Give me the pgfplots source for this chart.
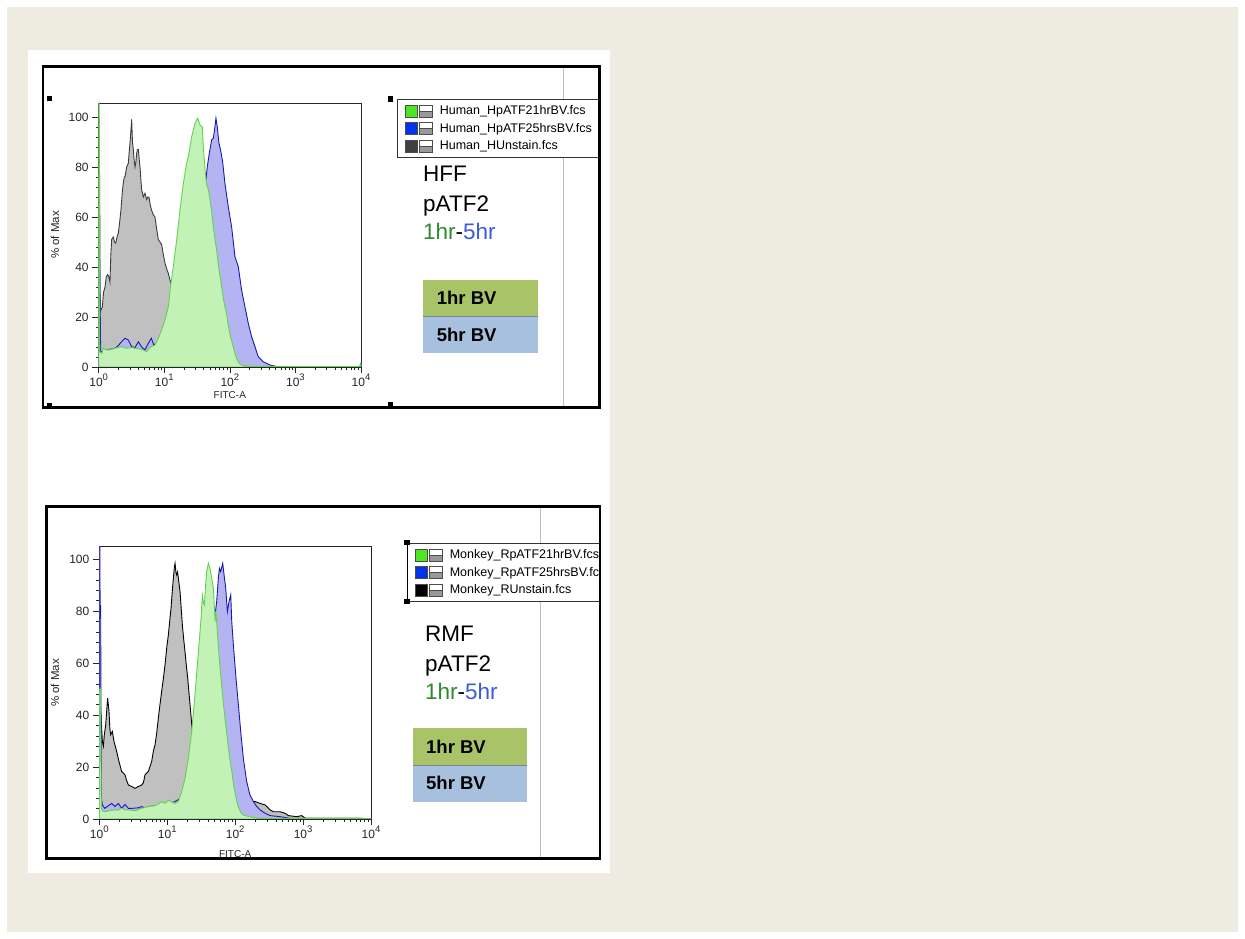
\documentclass[border=0pt]{standalone}
\usepackage{pgfplots}
\pgfplotsset{compat=1.18}
\usepackage{pgfplotstable}
\usepackage{fontspec}
\setmainfont{Liberation Sans}

\definecolor{bgbeige}{HTML}{EEECE1}
\definecolor{grayfill}{HTML}{C0C0C0}
\definecolor{grayline}{HTML}{3C3C3C}
\definecolor{greenfill}{HTML}{C2F2B6}
\definecolor{greenline}{HTML}{64D250}
\definecolor{bluefill}{HTML}{B4B4F2}
\definecolor{blueline}{HTML}{1A1AA8}
\definecolor{lgreen}{HTML}{4CE624}
\definecolor{lblue}{HTML}{0033EE}
\definecolor{ldark}{HTML}{404040}
\definecolor{txtgreen}{HTML}{2E8B2E}
\definecolor{txtblue}{HTML}{3B5BDB}
\definecolor{boxgreen}{HTML}{A9C369}
\definecolor{boxblue}{HTML}{A7C0DE}

% ---------------- Human (HFF) ----------------
\pgfplotstableread{
x y
1 77
1.035 77
1.05 22
1.135 24
1.189 30
1.247 32
1.303 36
1.371 37
1.429 36
1.486 34
1.531 45
1.578 51
1.671 52
1.738 50
1.816 49.5
1.905 52
1.991 53.5
2.089 58
2.188 63
2.291 70
2.371 73.5
2.455 76
2.518 76
2.667 80
2.831 81.5
2.917 86
2.999 89.5
3.090 94
3.184 99
3.273 90
3.373 87
3.467 83
3.581 80
3.690 82
3.793 85.5
3.908 87
4.027 87
4.150 83
4.266 80
4.395 75
4.519 71
4.797 68
5.082 69.5
5.395 67
5.623 68
5.848 68
6.095 65
6.353 63
6.761 61
7.211 60
7.674 55
8.110 51
8.610 50
9.120 49
9.661 45
10.26 41.5
10.96 39
11.53 37.5
12.16 35
12.65 33.5
13.49 27
14.45 20
15.85 12
17.78 6
22.39 2
31.62 1
63.10 0.6
125.9 0.5
223.9 0.4
398.1 0.1
1000 0
10000 0
}\hffGray

\pgfplotstableread{
x y
1 43
1.035 43
1.072 6
1.122 6.1
1.259 7
1.413 7
1.585 7.2
1.778 7.5
1.905 8.1
2.138 9.5
2.239 10.1
2.512 11.5
2.831 10.8
3.184 8.1
3.581 7.8
4.027 10.1
4.519 8
5.082 6.8
5.715 9.5
6.353 11.5
6.918 8.8
7.943 10
10 12
12.59 18
15.85 28
19.95 40
25.12 50
31.62 60
35.48 66
39.81 72
43.25 75
45.29 80.1
48.64 85.5
52.72 90.8
55.98 91.5
59.29 96.1
61.38 99.5
64.27 96.1
68.23 89.5
72.28 86.8
77.62 82.1
84.14 73.5
94.62 64.1
106.4 56.1
119.7 44.1
134.6 40.1
151.0 30.8
169.8 24.1
191.0 17.5
214.8 12.1
241.5 8.1
271.0 4.1
322.8 2.1
408.3 0.8
516.4 0.2
9550 0.2
10000 1.5
}\hffBlue

\pgfplotstableread{
x y
1 106
1.02 106
1.04 6
1.122 5.5
1.175 7.5
1.259 7
1.403 6.8
1.585 7.1
1.778 7.5
1.995 7.8
2.239 8.1
2.512 7.6
2.831 7.5
3.162 7.8
3.581 7.5
3.981 7.3
4.519 7.1
5.012 6.5
5.395 6.1
5.888 7.5
6.353 8.1
7.211 8.8
8.110 11.5
9.120 14.8
10.26 18.8
11.53 24.1
12.65 33.5
13.74 40.1
15.45 50.8
17.38 62.8
19.54 73.5
21.93 81.5
23.28 84.1
26.18 92.1
29.38 97.5
32.28 99.5
35.08 96.8
38.02 96.1
39.36 88
40.83 82.8
42.17 78
43.25 75
44.26 73
46.99 71
49.77 66.8
52.84 62
55.85 56.1
59.43 51
62.81 46.8
66.68 41
70.63 36.5
74.99 32
79.43 27.5
84.33 24
89.33 21
94.84 16.5
100.5 13
106.4 10.5
112.7 8
119.7 5.5
126.8 3.5
134.9 2
142.6 1.2
158.5 0.6
199.5 0.3
1000 0.2
9550 0.2
10000 1.5
}\hffGreen

% ---------------- Monkey (RMF) ----------------
\pgfplotstableread{
x y
1 45
1.047 42
1.109 30
1.148 28
1.186 32.4
1.242 36.2
1.288 42
1.327 46.5
1.390 41.4
1.429 35
1.469 32.4
1.556 33.7
1.648 29.8
1.803 26
1.950 22.1
2.133 18.3
2.388 17
2.512 15
2.679 13.1
2.999 12.5
3.357 11.8
3.758 12.5
4.207 13.1
4.467 14
4.710 17
5.272 18.3
5.902 22.1
6.237 26
6.607 28.5
6.998 33
7.396 38.8
7.816 44
8.279 49.1
8.770 54
9.290 59.4
9.840 66
10.40 70.9
10.86 76
11.38 81.2
11.89 88
12.33 92.7
12.74 97
13.03 98.4
13.43 95
13.80 93.9
14.19 95
14.59 92.7
15.45 87.5
16.07 81
16.71 74.7
17.50 69
18.28 64.4
19.14 59
20.04 54.1
21.68 43.9
23.44 33.6
25.12 26
28.18 20
35.48 14
50.12 10
79.43 8
125.9 7
196.8 6.7
232.8 6.0
276.1 5.4
326.6 3.5
365.6 2.8
458.1 2.8
543.3 2.2
608.1 1.3
807.2 0.9
955.0 1.3
1072 0.3
9550 0.2
10000 0.2
}\rmfGray

\pgfplotstableread{
x y
1 106
1.019 106
1.028 82
1.047 82
1.072 8
1.109 5.4
1.202 4.1
1.521 6.0
1.702 4.8
1.905 6.0
2.133 4.1
2.388 5.6
2.679 4.1
2.999 4.1
3.758 4.3
4.207 4.8
4.710 4.1
5.272 4.8
6.310 5
7.943 5.5
10 6
12.59 6.5
15.85 8
19.95 12
25.12 22
31.62 38
39.81 58
44.67 68
50.58 78.5
53.46 83.7
56.62 92.7
58.61 96.5
61.24 95.2
65.61 98.4
68.71 93.9
72.61 88.8
76.91 79.9
81.28 83.7
86.10 86.3
89.13 76.0
94.19 67.0
103.0 54.1
111.7 43.9
120.8 33.6
132.1 23.3
147.9 14.4
165.6 9.2
185.8 6.7
208.0 4.8
232.8 3.5
276.1 2.2
326.6 1.3
458.1 0.9
631.0 0.3
9550 0.2
10000 0.2
}\rmfBlue

\pgfplotstableread{
x y
1 50
1.035 50
1.072 4
1.122 3
1.259 2.8
1.413 3.2
1.702 3.5
1.905 3.4
2.133 4.1
2.388 3.5
2.679 3.5
3.357 3.2
3.758 3.6
4.207 4.1
4.710 4.4
5.272 4.8
6.607 5.1
7.396 5.8
8.279 6.7
9.290 6.0
10.40 7.3
11.64 6.5
13.03 6.0
14.59 6.7
16.33 10.5
18.28 15.6
20.46 23.3
22.91 33.6
25.64 47.7
28.77 64.4
31.48 77.2
32.89 86.2
34.28 83
35.24 82.4
36.73 90
38.11 95.2
40.36 98.4
42.66 96.5
45.19 92.7
47.86 88.8
48.87 84
50.58 76
52.00 79.9
53.46 76
56.62 66
59.98 58
63.39 51
67.14 44.5
70.96 38.5
75.16 33
79.43 27.5
84.14 22.5
89.13 18.5
94.41 13.5
99.77 10
105.7 6.8
111.7 4.5
121.6 2.5
132.1 1.5
166.0 0.8
223.9 0.3
9550 0.2
10000 0.3
}\rmfGreen

\newcommand{\flowicon}[1]{%
  \path[draw=none, fill=none] (0pt,-8pt) rectangle (36pt,8pt);
  \path[fill=#1, draw=black!70, line width=0.5pt] (1pt,-6pt) rectangle (13pt,6pt);
  \path[fill=white, draw=none] (15pt,0pt) rectangle (28pt,6pt);
  \path[fill=black!40, draw=none] (15pt,-6pt) rectangle (28pt,0pt);
  \path[fill=none, draw=black!70, line width=0.5pt] (15pt,-6pt) rectangle (28pt,6pt);
  \path[fill=none, draw=black!70, line width=0.5pt] (15pt,0pt) -- (28pt,0pt);
}
\newcommand{\tenpow}[1]{10\raisebox{0.5em}{\fontsize{9.5}{10}\selectfont #1}}

\begin{document}
\begin{tikzpicture}[x=1pt,y=1pt]
\useasboundingbox (0,0) rectangle (1245,939);
\fill[white] (0,0) rectangle (1245,939);
\fill[bgbeige] (7,7) rectangle (1238,932);
\fill[white] (28,66) rectangle (610,889);

% ---------- top panel ----------
\draw[black!25, line width=1pt] (563.3,531.3) -- (563.3,872.3);
\begin{scope}
\clip (43,531.3) rectangle (599.3,872.3);
\begin{axis}[
    scale only axis, xmode=log, xmin=1, xmax=10000, ymin=0, ymax=105.6,
    at={(98.7pt,572pt)}, anchor=south west, width=262.3pt, height=264pt,
    xtick={1,10,100,1000,10000},
    xticklabels={\tenpow{0},\tenpow{1},\tenpow{2},\tenpow{3},\tenpow{4}},
    minor xtick={2,3,4,5,6,7,8,9,20,30,40,50,60,70,80,90,200,300,400,500,600,700,800,900,2000,3000,4000,5000,6000,7000,8000,9000},
    ytick={0,20,40,60,80,100},
    minor y tick num=4,
    tick align=outside, tick pos=left,
    major tick length=6.5pt, minor tick length=3.2pt,
    axis line style={line width=0.8pt, black!85},
    tick style={black!85, line width=0.6pt},
    xticklabel style={font=\fontsize{12}{13}\selectfont, text=black!85, yshift=3.5pt},
    yticklabel style={font=\fontsize{12}{13}\selectfont, text=black!85, /pgf/number format/assume math mode=true},
    ylabel={\% of Max}, xlabel={FITC-A},
    ylabel style={font=\fontsize{11.5}{12}\selectfont, text=black!85, at={(axis description cs:-0.1666,0.5)}, anchor=center},
    xlabel style={font=\fontsize{10}{11}\selectfont, text=black!85, at={(axis description cs:0.5,-0.106)}, anchor=center},
    legend style={at={(axis description cs:1.1373,1.0152)}, anchor=north west,
      draw=black!80, line width=0.6pt, fill=white,
      font=\fontsize{12.5}{14}\selectfont, inner xsep=6.5pt, inner ysep=3.5pt,
      row sep=1.5pt, nodes={inner sep=0pt}},
    legend cell align=left,
    reverse legend]
\addplot[draw=grayline, fill=grayfill, line width=0.9pt, legend image code/.code={\flowicon{ldark}}] table {\hffGray} \closedcycle;
\addlegendentry{Human\_HUnstain.fcs}
\addplot[draw=blueline, fill=bluefill, line width=0.9pt, legend image code/.code={\flowicon{lblue}}] table {\hffBlue} \closedcycle;
\addlegendentry{Human\_HpATF25hrsBV.fcs}
\addplot[draw=greenline, fill=greenfill, line width=0.9pt, legend image code/.code={\flowicon{lgreen}}] table {\hffGreen} \closedcycle;
\addlegendentry{Human\_HpATF21hrBV.fcs}
\end{axis}
\end{scope}
\draw[black, line width=2.5pt] (43,531.3) rectangle (599.3,872.3);
\foreach \p in {(49.5,840.5),(49.5,533.5),(390.3,840),(390.3,534.8)}
  \fill[black] \p ++(-2.6,-2.6) rectangle ++(5.2,5.2);

\node[anchor=base west, inner sep=0, font=\fontsize{22.5}{26}\selectfont] at (423,757.3) {HFF};
\node[anchor=base west, inner sep=0, font=\fontsize{22.5}{26}\selectfont] at (423,727.3) {pATF2};
\node[anchor=base west, inner sep=0, font=\fontsize{22.5}{26}\selectfont] at (423,699) {\textcolor{txtgreen}{1hr}-\textcolor{txtblue}{5hr}};

\fill[boxgreen] (423.3,623) rectangle (537.7,659);
\fill[boxblue] (423.3,586.3) rectangle (537.7,623);
\draw[black!30!boxblue, line width=0.8pt] (423.3,623) -- (537.7,623);
\node[anchor=base west, inner sep=0, font=\bfseries\fontsize{18.5}{22}\selectfont] at (436.7,634) {1hr BV};
\node[anchor=base west, inner sep=0, font=\bfseries\fontsize{18.5}{22}\selectfont] at (436.7,597.3) {5hr BV};

% ---------- bottom panel ----------
\draw[black!25, line width=1pt] (540.7,80.7) -- (540.7,432.3);
\begin{scope}
\clip (46.7,80.7) rectangle (600,432.3);
\begin{axis}[
    scale only axis, xmode=log, xmin=1, xmax=10000, ymin=0, ymax=104.8,
    at={(99.3pt,120pt)}, anchor=south west, width=271.7pt, height=272.3pt,
    xtick={1,10,100,1000,10000},
    xticklabels={\tenpow{0},\tenpow{1},\tenpow{2},\tenpow{3},\tenpow{4}},
    minor xtick={2,3,4,5,6,7,8,9,20,30,40,50,60,70,80,90,200,300,400,500,600,700,800,900,2000,3000,4000,5000,6000,7000,8000,9000},
    ytick={0,20,40,60,80,100},
    minor y tick num=4,
    tick align=outside, tick pos=left,
    major tick length=6.5pt, minor tick length=3.2pt,
    axis line style={line width=0.8pt, black!85},
    tick style={black!85, line width=0.6pt},
    xticklabel style={font=\fontsize{12}{13}\selectfont, text=black!85, yshift=3.5pt},
    yticklabel style={font=\fontsize{12}{13}\selectfont, text=black!85, /pgf/number format/assume math mode=true},
    ylabel={\% of Max}, xlabel={FITC-A},
    ylabel style={font=\fontsize{11.5}{12}\selectfont, text=black!85, at={(axis description cs:-0.163,0.5)}, anchor=center},
    xlabel style={font=\fontsize{10}{11}\selectfont, text=black!85, at={(axis description cs:0.5,-0.1297)}, anchor=center},
    legend style={at={(axis description cs:1.1325,1.0136)}, anchor=north west,
      draw=black!80, line width=0.6pt, fill=white,
      font=\fontsize{12.5}{14}\selectfont, inner xsep=6.5pt, inner ysep=3.5pt,
      row sep=1.5pt, nodes={inner sep=0pt}},
    legend cell align=left,
    reverse legend]
\addplot[draw=black, fill=grayfill, line width=0.9pt, legend image code/.code={\flowicon{black}}] table {\rmfGray} \closedcycle;
\addlegendentry{Monkey\_RUnstain.fcs}
\addplot[draw=blueline, fill=bluefill, line width=0.9pt, legend image code/.code={\flowicon{lblue}}] table {\rmfBlue} \closedcycle;
\addlegendentry{Monkey\_RpATF25hrsBV.fcs}
\addplot[draw=greenline, fill=greenfill, line width=0.9pt, legend image code/.code={\flowicon{lgreen}}] table {\rmfGreen} \closedcycle;
\addlegendentry{Monkey\_RpATF21hrBV.fcs}
\end{axis}
\end{scope}
\draw[black, line width=2.5pt] (46.7,80.7) rectangle (600,432.3);
\draw[black, line width=1pt] (407,337.5) -- (407,396.2);
\foreach \p in {(407,396.2),(407,337.5)}
  \fill[black] \p ++(-2.6,-2.6) rectangle ++(5.2,5.2);

\node[anchor=base west, inner sep=0, font=\fontsize{22.5}{26}\selectfont] at (425,297.3) {RMF};
\node[anchor=base west, inner sep=0, font=\fontsize{22.5}{26}\selectfont] at (425,267.3) {pATF2};
\node[anchor=base west, inner sep=0, font=\fontsize{22.5}{26}\selectfont] at (425,239) {\textcolor{txtgreen}{1hr}-\textcolor{txtblue}{5hr}};

\fill[boxgreen] (413.3,174) rectangle (527.3,210.7);
\fill[boxblue] (413.3,137.3) rectangle (527.3,174);
\draw[black!30!boxblue, line width=0.8pt] (413.3,174) -- (527.3,174);
\node[anchor=base west, inner sep=0, font=\bfseries\fontsize{18.5}{22}\selectfont] at (426,185.7) {1hr BV};
\node[anchor=base west, inner sep=0, font=\bfseries\fontsize{18.5}{22}\selectfont] at (426,149) {5hr BV};
\end{tikzpicture}
\end{document}
